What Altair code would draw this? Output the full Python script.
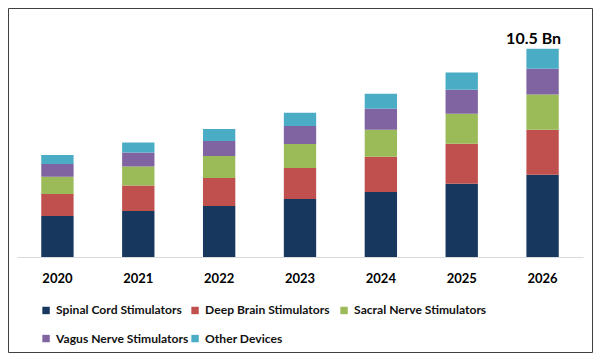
import altair as alt
import pandas as pd

years = ["2020", "2021", "2022", "2023", "2024", "2025", "2026"]
segments = ["Spinal Cord Stimulators", "Deep Brain Stimulators",
            "Sacral Nerve Stimulators", "Vagus Nerve Stimulators", "Other Devices"]
spinal = [2.07, 2.32, 2.57, 2.93, 3.28, 3.69, 4.15]
deep = [1.11, 1.28, 1.41, 1.56, 1.78, 2.02, 2.27]
sacral = [0.87, 0.96, 1.11, 1.21, 1.35, 1.51, 1.77]
vagus = [0.64, 0.71, 0.76, 0.91, 1.06, 1.21, 1.30]
other = [0.45, 0.50, 0.61, 0.66, 0.76, 0.87, 1.01]
colors = ["#17375E", "#C0504D", "#9BBB59", "#8064A2", "#4BACC6"]
note_years = ["2026"]
note_labels = ["10.5 Bn"]

series = [spinal, deep, sacral, vagus, other]
rows = []
for i, (name, vals) in enumerate(zip(segments, series)):
    for y, v in zip(years, vals):
        rows.append({"year": y, "segment": name, "value": v, "idx": i})
df = pd.DataFrame(rows)

totals = df.groupby("year")["value"].sum()
note_df = pd.DataFrame({"year": note_years, "label": note_labels,
                        "total": [totals[y] for y in note_years]})

W, H = 566, 238
x_enc = alt.X("year:N", sort=years,
              scale=alt.Scale(paddingInner=0.6, paddingOuter=0.3),
              axis=alt.Axis(title=None, ticks=False, tickSize=0, labelPadding=15,
                            labelAngle=0, labelFont="Lato", labelFontSize=13,
                            labelFontWeight="bold", labelColor="#000000",
                            domainColor="#D9D9D9", domainWidth=1, grid=False))
y_scale = alt.Scale(domain=[0, 12], nice=False, zero=True)

bars = alt.Chart(df).mark_bar().encode(
    x=x_enc,
    y=alt.Y("value:Q", stack="zero", scale=y_scale, axis=None),
    color=alt.Color("segment:N", sort=segments,
                    scale=alt.Scale(domain=segments, range=colors),
                    legend=alt.Legend(title=None, orient="none", legendX=23, legendY=285,
                                      direction="horizontal", columns=3, gridAlign="all",
                                      columnPadding=0, rowPadding=15.5, padding=0,
                                      symbolType="square", symbolSize=55,
                                      symbolStrokeWidth=0, labelOffset=4,
                                      labelFont="Lato", labelFontSize=12.1,
                                      labelFontWeight="bold", labelColor="#111111",
                                      labelLimit=300)),
    order=alt.Order("idx:Q", sort="ascending"),
)

note = alt.Chart(note_df).mark_text(
    font="Lato", fontSize=16, fontWeight="bold", color="#000000",
    baseline="bottom", align="center", dx=-9, dy=-2
).encode(
    x=alt.X("year:N", sort=years),
    y=alt.Y("total:Q", scale=y_scale),
    text="label:N",
)

frame = alt.Chart(alt.Data(values=[{}])).mark_rect(
    filled=False, stroke="#404040", strokeWidth=1
).encode(
    x=alt.value(-8.5), x2=alt.value(W + 9.5),
    y=alt.value(-10.5), y2=alt.value(H + 95.5),
)

chart = alt.layer(bars, note, frame).properties(
    width=W, height=H,
    autosize=alt.AutoSizeParams(type="none"),
    padding={"left": 9, "top": 11, "right": 10, "bottom": 96},
    background="#FFFFFF",
).configure_view(stroke=None)

chart.save("out.html", embed_options={"renderer": "svg", "actions": False})
